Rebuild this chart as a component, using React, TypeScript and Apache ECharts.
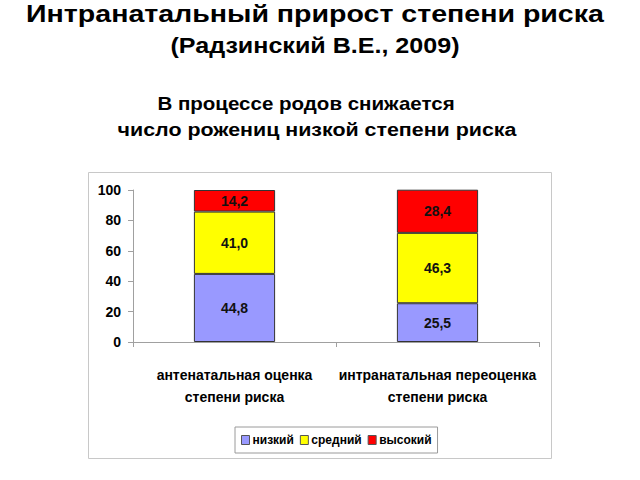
import React, { useEffect, useRef } from "react";
import * as echarts from "echarts";

const categories = ["антенатальная оценка\nстепени риска", "интранатальная переоценка\nстепени риска"];
const seriesNames = ["низкий", "средний", "высокий"];
const lowValues = [44.8, 25.5];
const midValues = [41.0, 46.3];
const highValues = [14.2, 28.4];
const yTicks = [0, 20, 40, 60, 80, 100];
const colors = ["#9999FF", "#FFFF00", "#FF0000"];
const titleLines = [
  "Интранатальный прирост степени риска",
  "(Радзинский В.Е., 2009)",
  "В процессе родов снижается",
  "число рожениц низкой степени риска",
];

const SANS = "'Liberation Sans', Arial, sans-serif";

function headText(text: string, cx: number, cy: number, size: number, sx: number) {
  return {
    type: "text",
    x: cx,
    y: cy,
    scaleX: sx,
    scaleY: 1,
    style: {
      text,
      font: `bold ${size}px ${SANS}`,
      fill: "#000",
      textAlign: "center",
      textVerticalAlign: "middle",
      align: "center",
      verticalAlign: "middle",
    },
  };
}

export default function App() {
  const ref = useRef<HTMLDivElement>(null);
  useEffect(() => {
    if (!ref.current) return;
    const chart = echarts.init(ref.current, null, { renderer: "svg" });
    const values = [lowValues, midValues, highValues];
    chart.setOption({
      animation: false,
      backgroundColor: "#ffffff",
      graphic: [
        headText(titleLines[0], 315, 14, 24, 1.19),
        headText(titleLines[1], 315, 46, 22, 1.14),
        headText(titleLines[2], 306, 104, 18, 1.14),
        headText(titleLines[3], 317, 130, 18, 1.19),
        {
          type: "rect",
          shape: { x: 88.5, y: 172.5, width: 463, height: 286 },
          style: { fill: "none", stroke: "#c8c8c8", lineWidth: 1 },
          z: -1,
        },
      ],
      legend: {
        data: seriesNames,
        left: 235,
        top: 427,
        padding: [7, 6],
        itemGap: 6,
        itemWidth: 8,
        itemHeight: 9,
        borderColor: "#9a9a9a",
        borderWidth: 1,
        icon: "rect",
        itemStyle: { borderColor: "#555", borderWidth: 1 },
        textStyle: { fontFamily: SANS, fontWeight: "bold", fontSize: 12, color: "#000", padding: [0, 0, 0, -2] },
      },
      grid: { left: 133, right: 101, top: 190, bottom: 138 },
      xAxis: {
        type: "category",
        data: categories,
        axisLine: { lineStyle: { color: "#a0a0a0" } },
        axisTick: { show: true, alignWithLabel: false, length: 5, lineStyle: { color: "#a0a0a0" } },
        axisLabel: {
          interval: 0,
          hideOverlap: false,
          fontFamily: SANS,
          fontWeight: "bold",
          fontSize: 14,
          color: "#000",
          lineHeight: 22,
          margin: 22,
        },
      },
      yAxis: {
        type: "value",
        min: 0,
        max: 100,
        interval: 20,
        splitLine: { show: false },
        axisLine: { show: true, lineStyle: { color: "#a0a0a0" } },
        axisTick: { show: true, length: 5, lineStyle: { color: "#a0a0a0" } },
        axisLabel: {
          fontFamily: SANS,
          fontWeight: "bold",
          fontSize: 14,
          color: "#000",
          margin: 12,
          formatter: (v: number) => (yTicks.includes(v) ? String(v) : ""),
        },
      },
      series: seriesNames.map((name, i) => ({
        name,
        type: "bar",
        stack: "total",
        barWidth: "40%",
        data: values[i],
        itemStyle: { color: colors[i], borderColor: "#333", borderWidth: 1 },
        label: {
          show: true,
          position: "inside",
          fontFamily: SANS,
          fontWeight: "bold",
          fontSize: 14,
          color: "#111",
          formatter: (p: any) => Number(p.value).toFixed(1).replace(".", ","),
        },
      })),
    });
    return () => chart.dispose();
  }, []);
  return (
    <div
      ref={ref}
      style={{ position: "fixed", left: 0, top: 0, width: 640, height: 480 }}
    />
  );
}
